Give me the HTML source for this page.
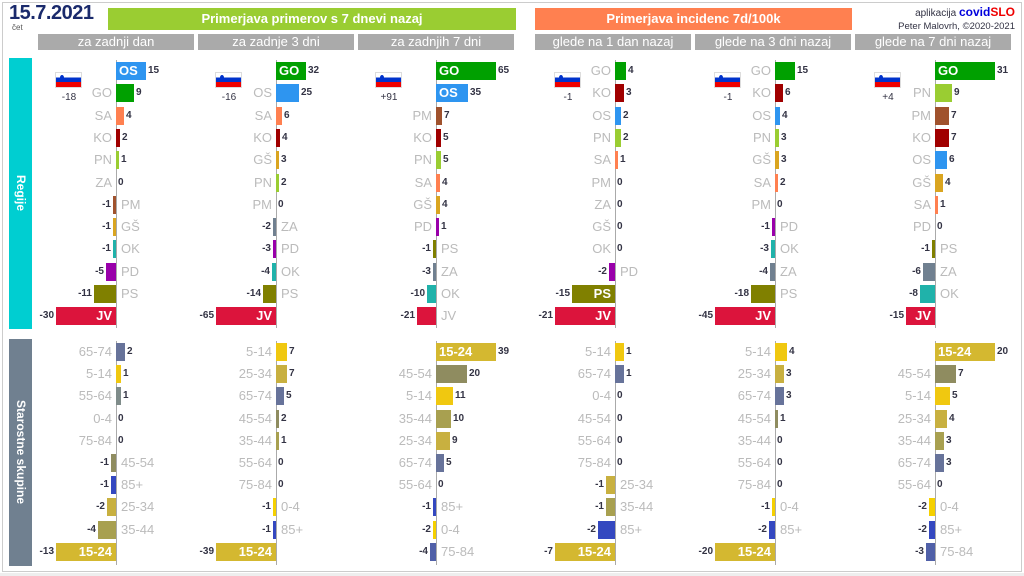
<!DOCTYPE html>
<html><head><meta charset="utf-8"><style>
body{margin:0;width:1024px;height:576px;background:#fff;font-family:"Liberation Sans",sans-serif;position:relative;overflow:hidden}
div{position:absolute;box-sizing:border-box}
.hd{color:#fff;font-weight:bold;font-size:13px;text-align:center;line-height:22px}
.sh{background:#aaa;color:#fff;font-size:13px;text-align:center;line-height:16px;height:16px;top:34px}
.lab{font-size:13px;color:#bbb;line-height:18px;white-space:nowrap}
.val{font-size:10px;color:#334;font-weight:bold;line-height:18px;white-space:nowrap}
.in{font-size:13px;color:#fff;font-weight:bold;line-height:18px;white-space:nowrap}
.ax{width:1px;background:#aaa}
</style></head><body>
<div style="left:2px;top:2px;width:1020px;height:570px;border:1px solid #ccc"></div>
<div style="left:0;top:573px;width:1024px;height:3px;background:#eee"></div>
<div style="left:9px;top:2px;font-size:20px;font-weight:bold;color:#1a2a6c;letter-spacing:-0.5px">15.7.2021</div>
<div style="left:12px;top:23px;font-size:8px;color:#555">čet</div>
<div class="hd" style="left:108px;top:8px;width:408px;height:22px;background:#9acd32">Primerjava primerov s 7 dnevi nazaj</div>
<div class="hd" style="left:535px;top:8px;width:317px;height:22px;background:#ff8050">Primerjava incidenc 7d/100k</div>
<div style="left:860px;top:5px;width:155px;text-align:right;font-size:10px;color:#334">aplikacija <b style="color:#0000dd;font-size:12px">covid</b><b style="color:#e00;font-size:12px">SLO</b></div>
<div style="left:850px;top:21px;width:165px;text-align:right;font-size:9.5px;color:#334">Peter Malovrh, ©2020-2021</div>
<div class="sh" style="left:38px;width:156px">za zadnji dan</div>
<div class="sh" style="left:198px;width:156px">za zadnje 3 dni</div>
<div class="sh" style="left:358px;width:156px">za zadnjih 7 dni</div>
<div class="sh" style="left:535px;width:156px">glede na 1 dan nazaj</div>
<div class="sh" style="left:695px;width:156px">glede na 3 dni nazaj</div>
<div class="sh" style="left:855px;width:156px">glede na 7 dni nazaj</div>
<div style="left:9px;top:58px;width:23px;height:271px;background:#00ced1"></div>
<div style="left:9px;top:339px;width:23px;height:227px;background:#708090"></div>
<div style="top:193px;transform:translate(-50%,-50%) rotate(90deg);color:#fff;font-weight:bold;font-size:12px;white-space:nowrap;left:21px">Regije</div>
<div style="left:21px;top:452px;transform:translate(-50%,-50%) rotate(90deg);color:#fff;font-weight:bold;font-size:12px;white-space:nowrap">Starostne skupine</div>
<script>
var C={OS:'#2e95f0',GO:'#00a000',SA:'#ff8050',KO:'#a00000',PN:'#9acd32',ZA:'#708090',PM:'#a0522d',"GŠ":'#daa520',OK:'#20b2aa',PD:'#9900aa',PS:'#808000',JV:'#dc143c',
'65-74':'#67739a','5-14':'#f0c810','55-64':'#7f8c8a','0-4':'#f5d000','75-84':'#5060a8','45-54':'#8f8c60','85+':'#3448c0','25-34':'#c8b040','35-44':'#a8a050','15-24':'#d4b830'};
var Z=[116,276,436,615,775,935];
var R=[
[['OS',15,1],['GO',9],['SA',4],['KO',2],['PN',1],['ZA',0],['PM',-1],['GŠ',-1],['OK',-1],['PD',-5],['PS',-11],['JV',-30,1]],
[['GO',32,1],['OS',25],['SA',6],['KO',4],['GŠ',3],['PN',2],['PM',0],['ZA',-2],['PD',-3],['OK',-4],['PS',-14],['JV',-65,1]],
[['GO',65,1],['OS',35,1],['PM',7],['KO',5],['PN',5],['SA',4],['GŠ',4],['PD',1],['PS',-1],['ZA',-3],['OK',-10],['JV',-21]],
[['GO',4],['KO',3],['OS',2],['PN',2],['SA',1],['PM',0],['ZA',0],['GŠ',0],['OK',0],['PD',-2],['PS',-15,1],['JV',-21,1]],
[['GO',15],['KO',6],['OS',4],['PN',3],['GŠ',3],['SA',2],['PM',0],['PD',-1],['OK',-3],['ZA',-4],['PS',-18],['JV',-45,1]],
[['GO',31,1],['PN',9],['PM',7],['KO',7],['OS',6],['GŠ',4],['SA',1],['PD',0],['PS',-1],['ZA',-6],['OK',-8],['JV',-15,1]]];
var A=[
[['65-74',2],['5-14',1],['55-64',1],['0-4',0],['75-84',0],['45-54',-1],['85+',-1],['25-34',-2],['35-44',-4],['15-24',-13,1]],
[['5-14',7],['25-34',7],['65-74',5],['45-54',2],['35-44',1],['55-64',0],['75-84',0],['0-4',-1],['85+',-1],['15-24',-39,1]],
[['15-24',39,1],['45-54',20],['5-14',11],['35-44',10],['25-34',9],['65-74',5],['55-64',0],['85+',-1],['0-4',-2],['75-84',-4]],
[['5-14',1],['65-74',1],['0-4',0],['45-54',0],['55-64',0],['75-84',0],['25-34',-1],['35-44',-1],['85+',-2],['15-24',-7,1]],
[['5-14',4],['25-34',3],['65-74',3],['45-54',1],['35-44',0],['55-64',0],['75-84',0],['0-4',-1],['85+',-2],['15-24',-20,1]],
[['15-24',20,1],['45-54',7],['5-14',5],['25-34',4],['35-44',3],['65-74',3],['55-64',0],['0-4',-2],['85+',-2],['75-84',-3]]];
var F=['-18','-16','+91','-1','-1','+4'];
var h='';
function d(s,st,t){h+='<div class="'+s+'" style="'+st+'">'+(t||'')+'</div>';}
function sec(data,z,y0,dy,ya,yb){
 var m=0;data.forEach(function(r){m=Math.max(m,Math.abs(r[1]))});
 d('ax','left:'+z+'px;top:'+ya+'px;height:'+(yb-ya)+'px');
 data.forEach(function(r,i){
  var y=Math.round(y0+i*dy-9),v=r[1],w=Math.max(Math.round(Math.abs(v)/m*60),v?3:0);
  if(v>0){d('','left:'+z+'px;top:'+y+'px;width:'+w+'px;height:18px;background:'+C[r[0]]);
   d('val','left:'+(z+w+2)+'px;top:'+y+'px',v);}
  else if(v<0){d('','left:'+(z-w)+'px;top:'+y+'px;width:'+w+'px;height:18px;background:'+C[r[0]]);
   d('val','right:'+(1024-(z-w)+2)+'px;top:'+y+'px',v);}
  else d('val','left:'+(z+2)+'px;top:'+y+'px','0');
  if(r[2]){ if(v>0) d('in','left:'+(z+3)+'px;top:'+y+'px',r[0]); else d('in','right:'+(1024-z+4)+'px;top:'+y+'px',r[0]);}
  else if(v>0||v==0) d('lab','right:'+(1024-z+4)+'px;top:'+y+'px',r[0]);
  else d('lab','left:'+(z+5)+'px;top:'+y+'px',r[0]);
 });
}
for(var p=0;p<6;p++){
 var z=Z[p];
 sec(R[p],z,71,22.3,60,328);
 sec(A[p],z,352,22.2,341,565);
 var fx=z-61;
 h+='<div style="left:'+fx+'px;top:72px;width:27px;height:16px;border:1px solid #ddd;background:linear-gradient(#fff 0 33%,#0033cc 33% 66%,#ee0000 66%)"></div>';
 h+='<div style="left:'+(fx+5)+'px;top:75px;width:4px;height:5px;border-radius:50%;background:#0033cc"></div>';
 d('val','left:'+(fx-6)+'px;top:89px;width:40px;text-align:center;font-weight:normal',F[p]);
}
document.write(h);
</script>
</body></html>
